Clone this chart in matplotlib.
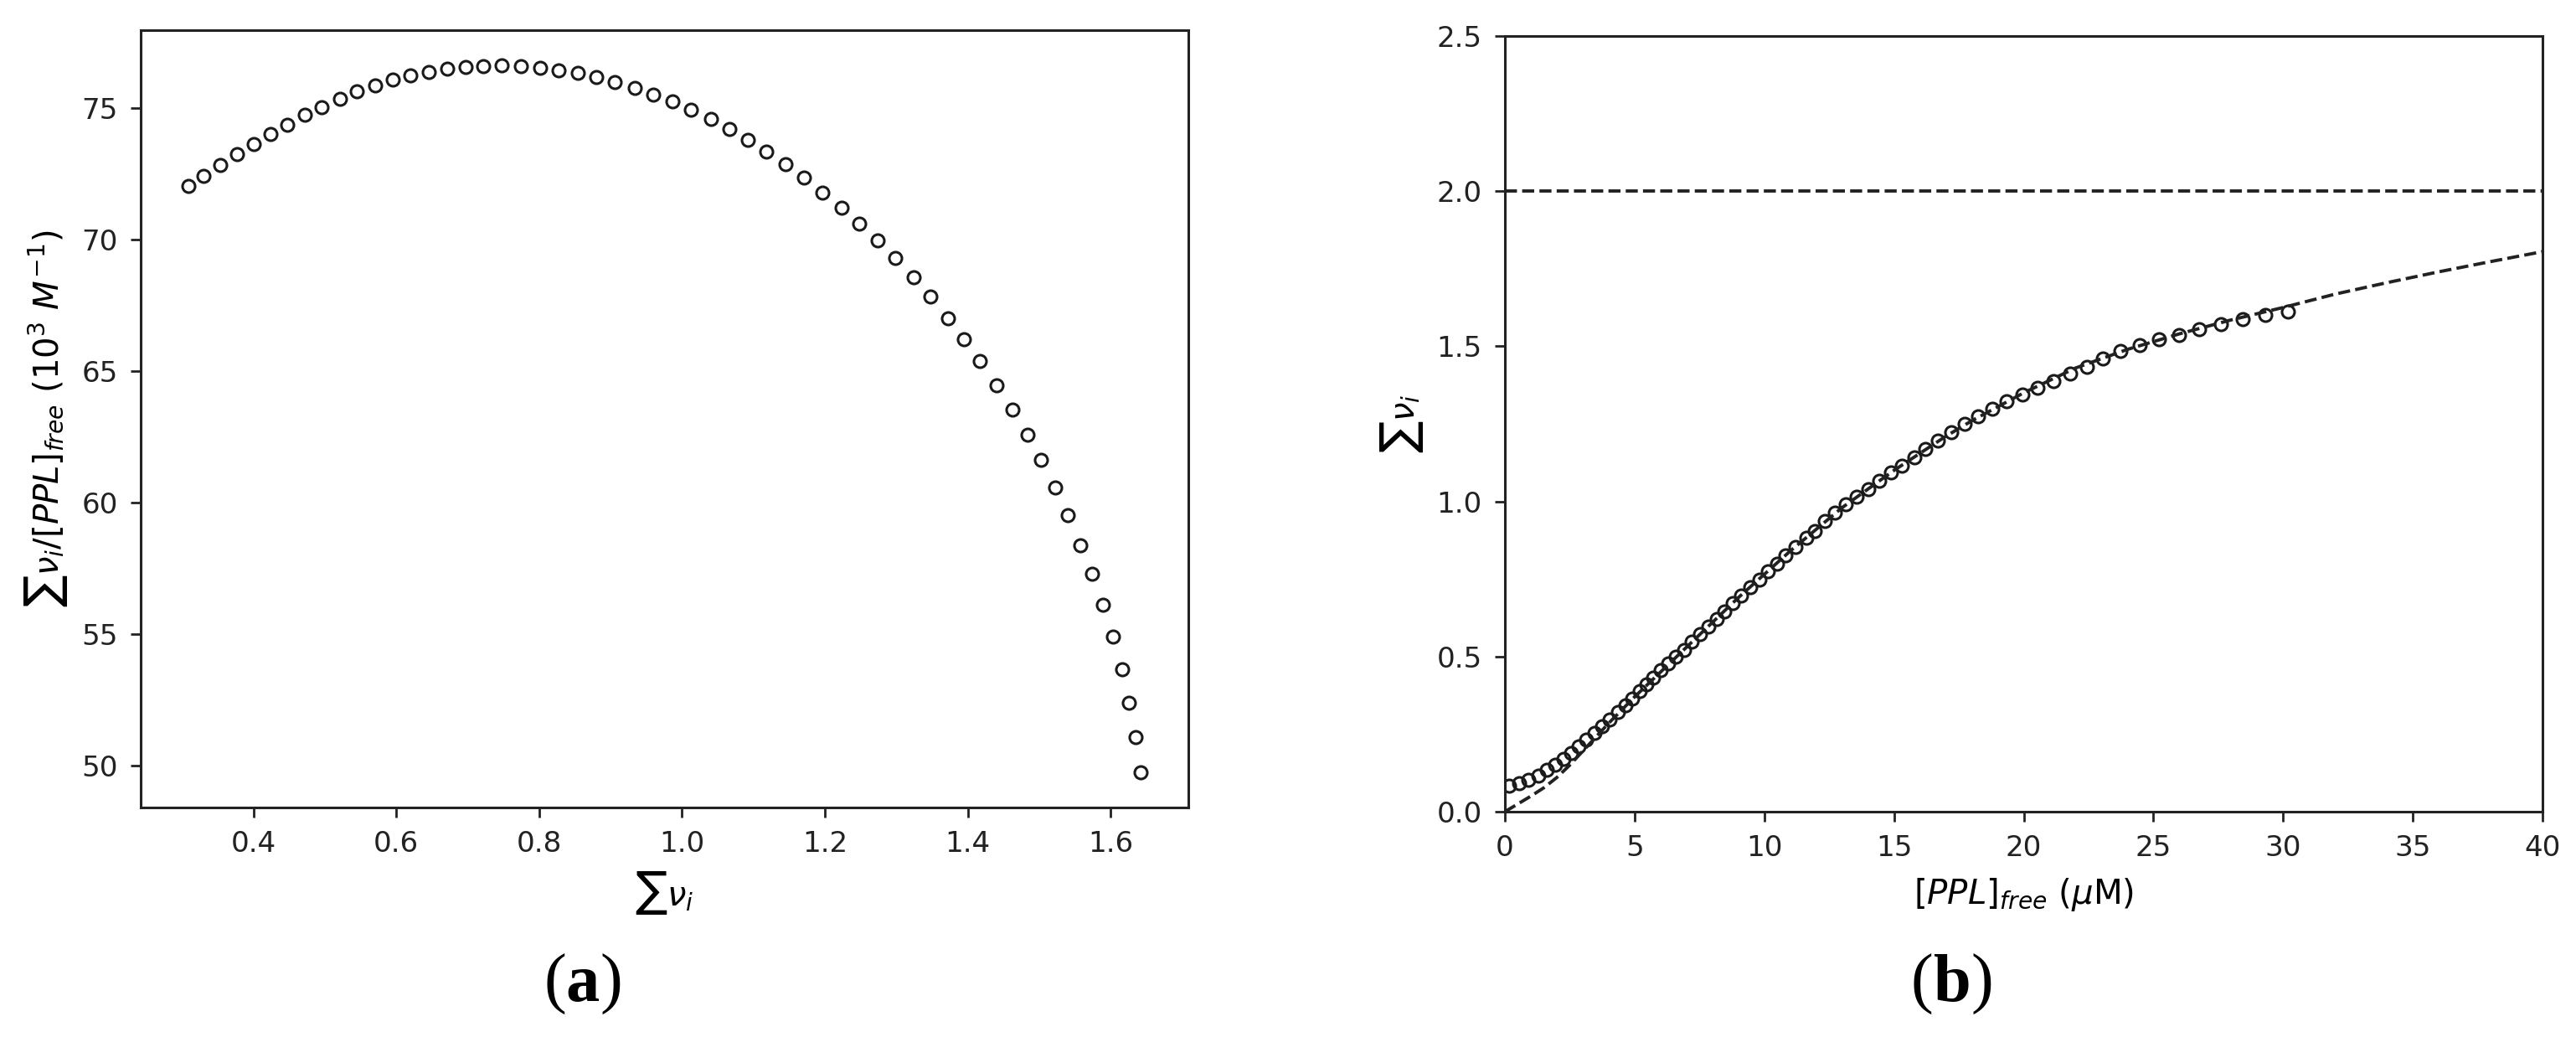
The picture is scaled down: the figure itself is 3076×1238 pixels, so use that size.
import matplotlib
matplotlib.use('Agg')
import matplotlib.pyplot as plt

# (a) Scatchard plot: sum(nu_i) vs sum(nu_i)/[PPL]free
nu_a = [0.309, 0.330, 0.354, 0.377, 0.400, 0.424, 0.448, 0.472, 0.496, 0.521,
        0.545, 0.570, 0.595, 0.620, 0.646, 0.671, 0.697, 0.722, 0.748, 0.775,
        0.801, 0.827, 0.854, 0.880, 0.906, 0.934, 0.960, 0.987, 1.013, 1.040,
        1.066, 1.092, 1.118, 1.145, 1.171, 1.197, 1.223, 1.248, 1.274, 1.299,
        1.324, 1.348, 1.372, 1.395, 1.417, 1.440, 1.462, 1.484, 1.502, 1.522,
        1.540, 1.558, 1.574, 1.589, 1.603, 1.616, 1.626, 1.635, 1.642]
ratio_a = [72.03, 72.40, 72.83, 73.23, 73.64, 74.02, 74.37, 74.74, 75.04, 75.35,
           75.63, 75.85, 76.06, 76.22, 76.36, 76.48, 76.54, 76.59, 76.61, 76.59,
           76.52, 76.44, 76.32, 76.16, 75.98, 75.77, 75.51, 75.24, 74.92, 74.59,
           74.21, 73.78, 73.33, 72.85, 72.34, 71.77, 71.22, 70.61, 69.96, 69.29,
           68.56, 67.83, 67.01, 66.22, 65.37, 64.45, 63.54, 62.58, 61.61, 60.57,
           59.51, 58.39, 57.30, 56.12, 54.92, 53.68, 52.40, 51.08, 49.76]

# (b) binding isotherm
ppl_b = [0.16, 0.54, 0.92, 1.30, 1.62, 1.95, 2.25, 2.54, 2.83, 3.14,
         3.44, 3.75, 4.05, 4.35, 4.65, 4.92, 5.19, 5.46, 5.73, 6.01,
         6.29, 6.59, 6.90, 7.20, 7.51, 7.84, 8.16, 8.46, 8.78, 9.11,
         9.46, 9.81, 10.14, 10.49, 10.81, 11.21, 11.62, 11.95, 12.32, 12.73,
         13.13, 13.57, 14.00, 14.43, 14.87, 15.30, 15.78, 16.22, 16.70, 17.22,
         17.73, 18.25, 18.79, 19.35, 19.94, 20.54, 21.16, 21.78, 22.43, 23.05,
         23.74, 24.47, 25.22, 25.99, 26.77, 27.59, 28.43, 29.30, 30.20]
nu_b = [0.084, 0.093, 0.103, 0.117, 0.134, 0.152, 0.171, 0.190, 0.211, 0.232,
        0.253, 0.276, 0.298, 0.320, 0.343, 0.365, 0.388, 0.410, 0.433, 0.455,
        0.478, 0.500, 0.522, 0.547, 0.572, 0.597, 0.621, 0.645, 0.671, 0.697,
        0.723, 0.749, 0.775, 0.800, 0.826, 0.852, 0.882, 0.904, 0.936, 0.963,
        0.990, 1.014, 1.039, 1.066, 1.093, 1.115, 1.142, 1.169, 1.196, 1.223,
        1.250, 1.274, 1.299, 1.322, 1.344, 1.367, 1.389, 1.412, 1.434, 1.461,
        1.484, 1.504, 1.522, 1.537, 1.555, 1.571, 1.587, 1.602, 1.612]

# fitted curve
fit_x = [0, 0.5, 1, 1.5, 2, 2.5, 3, 4, 5, 6, 7, 8, 9, 10, 11, 12, 13, 14,
         15, 16, 17, 18, 19, 20, 22, 24, 26, 28, 30, 32, 34, 36, 38, 40]
fit_y = [0.0, 0.025, 0.05, 0.077, 0.11, 0.15, 0.195, 0.285, 0.37, 0.45,
         0.53, 0.61, 0.69, 0.765, 0.84, 0.91, 0.98, 1.04, 1.10, 1.155,
         1.21, 1.26, 1.305, 1.35, 1.43, 1.49, 1.54, 1.585, 1.625, 1.668,
         1.705, 1.74, 1.773, 1.805]
n_sites = 2.0

plt.rcParams['axes.linewidth'] = 1.1
plt.rcParams['axes.edgecolor'] = '#222222'
plt.rcParams['xtick.major.size'] = 4.3
plt.rcParams['ytick.major.size'] = 4.3
plt.rcParams['xtick.major.width'] = 1.0
plt.rcParams['ytick.major.width'] = 1.0
plt.rcParams['xtick.major.pad'] = 5.5
plt.rcParams['ytick.major.pad'] = 5.5
plt.rcParams['xtick.labelsize'] = 12.3
plt.rcParams['ytick.labelsize'] = 12.3
plt.rcParams['xtick.color'] = '#222222'
plt.rcParams['ytick.color'] = '#222222'

W, H = 3076, 1238
fig = plt.figure(figsize=(W / 200, H / 200), dpi=200)

ax1 = fig.add_axes([168 / W, 1 - 964 / H, (1419 - 168) / W, (964 - 36) / H])
ax2 = fig.add_axes([1797 / W, 1 - 969 / H, (3036 - 1797) / W, (969 - 43) / H])

mk = dict(marker='o', ls='none', ms=5.4, mfc='none', mec='#1a1a1a', mew=1.1)

ax1.plot(nu_a, ratio_a, **mk)
ax1.set_xticks([0.4, 0.6, 0.8, 1.0, 1.2, 1.4, 1.6])
ax1.set_yticks([50, 55, 60, 65, 70, 75])
ax1.set_xlabel(r'$\sum\nu_i$', fontsize=14.5)
ax1.set_ylabel(r'$\sum\nu_i/[PPL]_{free}\ (10^3\ M^{-1})$', fontsize=14.5)
ax1.xaxis.set_label_coords(0.5, -0.08)
ax1.yaxis.set_label_coords(-0.068, 0.5)

ax2.plot(ppl_b, nu_b, **mk)
ax2.plot(fit_x, fit_y, ls='--', color='#222222', lw=1.4)
ax2.axhline(n_sites, ls='--', color='#222222', lw=1.4)
ax2.set_xlim(0, 40)
ax2.set_ylim(0, 2.5)
ax2.set_xticks(range(0, 45, 5))
ax2.set_yticks([0.0, 0.5, 1.0, 1.5, 2.0, 2.5])
ax2.set_xlabel(r'$[PPL]_{free}$ ($\mu$M)', fontsize=14.5)
ax2.set_ylabel(r'$\sum\nu_i$', fontsize=14.5)
ax2.xaxis.set_label_coords(0.5, -0.083)
ax2.yaxis.set_label_coords(-0.077, 0.5)

# panel letters: serif "(", bold letter, ")"
for xc, letter in [(696, 'a'), (2331, 'b')]:
    t = fig.text(xc / W, 1 - 1212 / H, letter, ha='center', va='bottom',
                 fontsize=29, weight='bold', family='Liberation Serif')
    ax1.annotate('(', xy=(0, 0), xycoords=t, ha='right', va='bottom',
                 fontsize=29, family='Liberation Serif', annotation_clip=False)
    ax1.annotate(')', xy=(1, 0), xycoords=t, ha='left', va='bottom',
                 fontsize=29, family='Liberation Serif', annotation_clip=False)

fig.savefig('out.png', dpi=200)
